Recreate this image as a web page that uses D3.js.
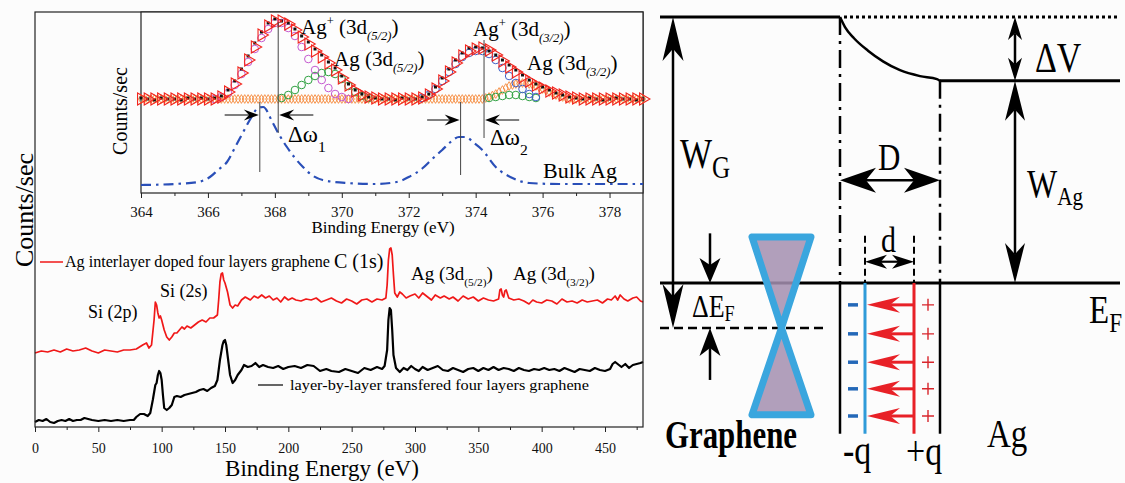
<!DOCTYPE html>
<html>
<head>
<meta charset="utf-8">
<script src="https://cdn.jsdelivr.net/npm/d3@7"></script>
<style>
  html, body { margin:0; padding:0; background:#fcfcfc; }
  svg { display:block; font-family:"Liberation Serif","Times New Roman",serif; }
  svg text { font-family:"Liberation Serif","Times New Roman",serif; }
</style>
</head>
<body>
<svg id="fig" width="1125" height="483"></svg>
<script>
// ================= DATA =================
// --- XPS survey (binding energy eV, counts a.u.)
const surveyTicks = [0,50,100,150,200,250,300,350,400,450];
const surveyMinorTicks = [25,75,125,175,225,275,325,375,425,475];
const dopedSurvey = [[0,74],[5,76],[10,75],[15,77],[20,75],[25,78],[30,76],[35,77],[40,79],[45,76],[50,74],[55,77],[60,76],[65,75],[70,77],[75,77],[80,78],[85,82],[88,84],[90,79],[92,82],[94,107],[95,125],[96,122],[97,114],[98,109],[99,111],[100,107],[102,97],[104,90],[106,87],[108,90],[110,94],[112,94],[114,97],[116,100],[118,98],[120,101],[123,99],[126,102],[129,105],[132,107],[135,105],[138,109],[141,109],[144,112],[145,127],[146,145],[147,153],[148,154],[149,147],[150,144],[152,135],[154,122],[156,119],[158,122],[160,121],[163,127],[166,130],[170,127],[173,131],[176,129],[179,132],[182,129],[185,131],[188,127],[191,129],[194,125],[197,130],[200,127],[203,129],[206,127],[210,126],[214,128],[218,127],[222,129],[226,125],[230,127],[234,129],[238,126],[242,124],[246,128],[250,126],[254,123],[258,127],[262,128],[266,125],[270,128],[274,127],[277,129],[278,142],[279,167],[280,178],[281,179],[282,172],[283,152],[284,134],[286,130],[288,135],[290,133],[293,129],[296,131],[300,133],[303,129],[306,134],[310,130],[313,127],[316,132],[320,129],[323,131],[327,128],[330,130],[334,126],[338,131],[342,128],[346,130],[350,126],[354,129],[358,127],[362,126],[366,128],[367,137],[368,138],[369,132],[370,130],[371,136],[372,137],[373,133],[374,129],[378,127],[382,128],[386,126],[390,123],[393,127],[396,125],[400,124],[404,127],[408,126],[412,123],[416,128],[420,125],[424,126],[428,124],[432,127],[436,125],[440,126],[444,127],[448,124],[452,128],[455,127],[458,131],[460,127],[462,132],[465,128],[468,126],[472,129],[475,130],[478,126],[480,125]];
const pristineSurvey = [[0,5],[3,7],[6,6],[9,8],[12,5],[15,4],[18,6],[21,7],[24,6],[27,8],[30,6],[33,7],[36,7],[39,9],[42,8],[45,7],[50,6],[55,7],[60,6],[65,7],[70,6],[75,7],[78,7],[80,10],[83,13],[86,13],[89,11],[91,14],[93,27],[95,42],[96,44],[97,52],[98,56],[99,54],[100,47],[101,32],[102,19],[104,17],[106,19],[108,22],[110,30],[112,31],[115,30],[118,32],[121,33],[124,34],[127,35],[130,37],[133,38],[136,36],[139,39],[142,41],[144,47],[146,67],[148,82],[149,86],[150,87],[151,82],[152,72],[154,52],[156,44],[158,47],[160,52],[163,57],[165,62],[168,60],[171,61],[174,64],[177,60],[180,62],[184,60],[188,59],[192,61],[196,58],[200,60],[205,61],[210,59],[215,62],[220,61],[225,56],[230,58],[234,56],[240,55],[245,58],[250,56],[255,54],[260,59],[265,57],[270,60],[274,58],[276,61],[278,77],[279,107],[280,119],[281,117],[282,97],[283,72],[285,59],[288,55],[291,59],[294,57],[297,61],[300,58],[303,56],[306,60],[310,57],[314,59],[318,61],[322,57],[326,56],[330,59],[334,57],[338,55],[342,58],[346,59],[350,56],[354,59],[358,57],[362,60],[366,57],[370,59],[374,58],[378,56],[382,59],[386,57],[390,56],[394,58],[398,57],[402,59],[406,57],[410,58],[414,56],[418,59],[422,57],[426,55],[430,58],[434,57],[438,56],[442,59],[446,57],[450,56],[454,58],[456,63],[458,65],[460,63],[463,60],[466,63],[469,59],[472,62],[475,63],[478,64],[480,65]];
const dopedLegend = "Ag interlayer doped four layers graphene";
const pristineLegend = "layer-by-layer transfered four layers graphene";

// --- Ag 3d inset (binding energy eV, intensity a.u.)
const insetTicks = [364,366,368,370,372,374,376,378];
const insetMinorTicks = [365,367,369,371,373,375,377];
const insetEV = [364.0,364.2,364.4,364.6,364.8,365.0,365.2,365.4,365.6,365.8,366.0,366.2,366.4,366.6,366.8,367.0,367.2,367.4,367.6,367.8,368.0,368.2,368.4,368.6,368.8,369.0,369.2,369.4,369.6,369.8,370.0,370.2,370.4,370.6,370.8,371.0,371.2,371.4,371.6,371.8,372.0,372.2,372.4,372.6,372.8,373.0,373.2,373.4,373.6,373.8,374.0,374.2,374.4,374.6,374.8,375.0,375.2,375.4,375.6,375.8,376.0,376.2,376.4,376.6,376.8,377.0,377.2,377.4,377.6,377.8,378.0,378.2,378.4,378.6,378.8,379.0];
const insetRaw = [95,94,93,95,94,94,93,95,94,95,94,95,97,103,112,124,137,150,161,170,174,172,170,164,157,151,144,138,131,125,117,109,103,99,96,95,94,94,93,95,94,94,96,99,106,115,124,133,140,145,146,145,142,138,133,128,123,118,113,109,106,103,100,98,96,95,94,95,94,93,94,95,94,94,93,94];
const insetEnvelope = [94,94,94,94,94,94,94,94,94,94,94,94,96,101,109,120,133,146,158,167,172,172,169,163,156,149,142,136,130,123,115,108,102,98,96,95,94,94,94,94,94,94,95,98,104,112,121,130,137,142,144,145,143,138,132,126,121,116,112,108,105,102,100,98,96,95,94,94,94,94,94,94,94,94,94,94];
const insetBackground = [94,94,94,94,94,94,94,94,94,94,94,94,94,94,94,94,94,94,94,94,94,94,94,94,94,94,94,94,94,94,94,94,94,94,94,94,94,94,94,94,94,94,94,94,94,94,94,94,94,94,94,94,96,99,103,107,109,110,109,107,104,101,98,96,94,94,94,94,94,94,94,94,94,94,94,94];
const agPlus52 = [[366.2,94],[366.4,96],[366.6,100],[366.8,108],[367.0,119],[367.2,131],[367.4,144],[367.6,155],[367.8,164],[368.0,170],[368.2,170],[368.4,165],[368.6,157],[368.8,146],[369.0,134],[369.2,123],[369.4,113],[369.6,105],[369.8,99],[370.0,96],[370.2,94]];
const ag52 = [[368.2,95],[368.4,98],[368.6,103],[368.8,108],[369.0,113],[369.2,117],[369.4,120],[369.6,121],[369.8,119],[370.0,114],[370.2,107],[370.4,101],[370.6,97],[370.8,95]];
const agPlus32 = [[372.4,95],[372.6,98],[372.8,104],[373.0,112],[373.2,121],[373.4,129],[373.6,136],[373.8,140],[374.0,142],[374.2,142],[374.4,139],[374.6,133],[374.8,125],[375.0,117],[375.2,110],[375.4,104],[375.6,99],[375.8,96]];
const ag32minor = [[374.4,95],[374.6,96],[374.8,97],[375.0,98],[375.2,98],[375.4,97],[375.6,96],[375.8,95]];
const bulkAg = [[364.0,8],[365.0,9],[365.7,11],[366.06,16],[366.3,23],[366.57,31],[366.8,45],[367.04,60],[367.25,73],[367.5,85],[367.65,86],[367.94,70],[368.15,57],[368.36,46],[368.6,35],[368.84,26],[369.1,18],[369.43,13],[370.15,10],[371.0,9],[371.64,11],[372.0,16],[372.42,25],[372.7,34],[373.0,43],[373.25,51],[373.5,56],[373.7,56],[373.95,50],[374.2,43],[374.6,26],[375.1,15],[375.6,10],[376.5,9],[379.0,9]];
// peak position markers [eV, top, bottom]
const peakMarks = [[368.1,171,60],[367.55,91,21],[373.55,91,18],[374.25,153,55]];
// shift arrows [fromEV, toEV, level]
const shiftArrows = [[366.5,367.52,78],[369.15,368.13,78],[372.55,373.52,73],[375.3,374.28,73]];

// --- Band diagram (position units, energy eV)
const vacuumLevel = 0, agVacuumLevel = -1.08, fermiLevel = -4.5, diracPoint = -5.26;
const potentialCurve = [[0,0],[0.5,-0.17],[1.4,-0.36],[2.8,-0.57],[4.3,-0.75],[6,-0.9],[8,-1.0],[9.7,-1.05],[10,-1.08]];
const grapheneLeft = -18, rightEnd = 28, interfaceX = 0, agWallX = 10;
const blueSheetX = 2.5, redSheetX = 7.4, chargeDash = [0.8,1.8], plusX = 8.8;
const coneCenter = -5.85, coneHalf = 2.95, coneTop = -3.72, coneBottom = -6.73;
const wallBottom = -7.05, dTop = -3.7, dArrowE = -4.14, DArrowE = -2.76;
const chargeRows = [-4.87,-5.36,-5.84,-6.29,-6.75];
const wgX = -16.7, defX = -13, defTop = -3.66, defBottom = -6.14, agArrowX = 17.5, diracDashEnd = -1.5;

// ================= DRAW =================
const svg = d3.select("#fig");
const SERIF = '"Liberation Serif","Times New Roman",serif';

function rich(g, x, y, parts, size, attrs = {}) {
  const t = g.append("text").attr("x", x).attr("y", y).attr("font-size", size);
  Object.entries(attrs).forEach(([k, v]) => t.attr(k, v));
  let off = 0;
  parts.forEach(p => {
    const target = p.sub ? size * (p.drop || 0.3) : p.sup ? -size * 0.42 : 0;
    const ts = t.append("tspan").text(p.t).attr("dy", target - off);
    off = target;
    if (p.sub || p.sup) ts.attr("font-size", size * (p.scale || 0.6));
    if (p.italic) ts.attr("font-style", "italic");
  });
  return t;
}

function arrow(g, x1, y1, x2, y2, o = {}) {
  const len = o.len || 20, wid = o.wid || 12, color = o.color || "#000", sw = o.sw || 2;
  const notch = o.notch == null ? 0.28 : o.notch;
  const start = !!o.start, end = o.end !== false;
  const ang = Math.atan2(y2 - y1, x2 - x1), ux = Math.cos(ang), uy = Math.sin(ang);
  const s0 = start ? len * (1 - notch) : 0, s1 = end ? len * (1 - notch) : 0;
  g.append("line")
    .attr("x1", x1 + ux * s0).attr("y1", y1 + uy * s0)
    .attr("x2", x2 - ux * s1).attr("y2", y2 - uy * s1)
    .attr("stroke", color).attr("stroke-width", sw);
  const head = `M0,0L${-len},${-wid / 2}L${-len * (1 - notch)},0L${-len},${wid / 2}Z`;
  const deg = ang * 180 / Math.PI;
  if (end) g.append("path").attr("d", head).attr("fill", color)
    .attr("transform", `translate(${x2},${y2}) rotate(${deg})`);
  if (start) g.append("path").attr("d", head).attr("fill", color)
    .attr("transform", `translate(${x1},${y1}) rotate(${deg + 180})`);
}

function styleAxis(ax, y, size) {
  ax.attr("font-family", null).attr("font-size", null);
  ax.select(".domain").remove();
  ax.selectAll("line").attr("stroke", "#222");
  ax.selectAll("text").attr("y", y).attr("dy", 0)
    .style("font-family", SERIF).style("font-size", size + "px").attr("fill", "#111");
}

// ---------- main survey panel ----------
const xMain = d3.scaleLinear().domain([0, 480]).range([35, 643]);
const yMain = d3.scaleLinear().domain([0, 415]).range([427, 12]);
const gMain = svg.append("g");

const lineMain = d3.line().x(d => xMain(d[0])).y(d => yMain(d[1]));
gMain.append("path").datum(pristineSurvey).attr("d", lineMain)
  .attr("fill", "none").attr("stroke", "#000").attr("stroke-width", 2.2).attr("stroke-linejoin", "round");
gMain.append("path").datum(dopedSurvey).attr("d", lineMain)
  .attr("fill", "none").attr("stroke", "#f01818").attr("stroke-width", 1.7).attr("stroke-linejoin", "round");

gMain.append("rect").attr("x", xMain(0)).attr("y", yMain(415))
  .attr("width", xMain(480) - xMain(0)).attr("height", yMain(0) - yMain(415))
  .attr("fill", "none").attr("stroke", "#222").attr("stroke-width", 1.2);

const axMain = gMain.append("g").attr("transform", `translate(0,${yMain(0)})`)
  .call(d3.axisBottom(xMain).tickValues(surveyTicks).tickSize(5).tickFormat(d3.format("d")));
styleAxis(axMain, 26, 14);
const axMainMinor = gMain.append("g").attr("transform", `translate(0,${yMain(0)})`)
  .call(d3.axisBottom(xMain).tickValues(surveyMinorTicks.filter(v => v < 480)).tickSize(3).tickFormat(""));
styleAxis(axMainMinor, 0, 1);

gMain.append("text").attr("x", 322).attr("y", 476).attr("text-anchor", "middle")
  .attr("font-size", 23).text("Binding Energy (eV)");
gMain.append("text").attr("transform", "translate(33,210) rotate(-90)")
  .attr("text-anchor", "middle").attr("font-size", 26).text("Counts/sec");

// legend
gMain.append("line").attr("x1", 40).attr("x2", 63).attr("y1", 262).attr("y2", 262)
  .attr("stroke", "#f01818").attr("stroke-width", 1.5);
gMain.append("text").attr("x", 65).attr("y", 267).attr("font-size", 16)
  .attr("textLength", 265).attr("lengthAdjust", "spacingAndGlyphs").text(dopedLegend);
gMain.append("line").attr("x1", 258).attr("x2", 283).attr("y1", 385).attr("y2", 385)
  .attr("stroke", "#000").attr("stroke-width", 1.2);
gMain.append("text").attr("x", 290).attr("y", 390).attr("font-size", 15)
  .attr("textLength", 299).attr("lengthAdjust", "spacingAndGlyphs").text(pristineLegend);

// peak labels
gMain.append("text").attr("x", 88).attr("y", 318).attr("font-size", 18).text("Si (2p)");
gMain.append("text").attr("x", 160).attr("y", 297).attr("font-size", 18).text("Si (2s)");
gMain.append("text").attr("x", 334).attr("y", 268).attr("font-size", 20).text("C (1s)");
rich(gMain, 411, 280, [{t:"Ag (3d"},{t:"(5/2)",sub:true},{t:")"}], 19);
rich(gMain, 513, 280, [{t:"Ag (3d"},{t:"(3/2)",sub:true},{t:")"}], 19);

// ---------- inset ----------
const xIn = d3.scaleLinear().domain([364, 379]).range([141, 643]);
const yIn = d3.scaleLinear().domain([0, 181]).range([193, 12]);
const gIn = svg.append("g");

gIn.append("rect").attr("x", xIn(364)).attr("y", yIn(181))
  .attr("width", xIn(379) - xIn(364)).attr("height", yIn(0) - yIn(181))
  .attr("fill", "#fdfdfd").attr("stroke", "#222").attr("stroke-width", 1.2);

const axIn = gIn.append("g").attr("transform", `translate(0,${yIn(0)})`)
  .call(d3.axisBottom(xIn).tickValues(insetTicks).tickSize(5).tickFormat(d3.format("d")));
styleAxis(axIn, 24, 15);
const axInMinor = gIn.append("g").attr("transform", `translate(0,${yIn(0)})`)
  .call(d3.axisBottom(xIn).tickValues(insetMinorTicks).tickSize(3).tickFormat(""));
styleAxis(axInMinor, 0, 1);

gIn.append("text").attr("x", 383).attr("y", 233).attr("text-anchor", "middle")
  .attr("font-size", 17).text("Binding Energy (eV)");
gIn.append("text").attr("transform", "translate(127,111) rotate(-90)")
  .attr("text-anchor", "middle").attr("font-size", 20).text("Counts/sec");

// bulk Ag
gIn.append("path").datum(bulkAg)
  .attr("d", d3.line().curve(d3.curveMonotoneX).x(d => xIn(d[0])).y(d => yIn(d[1])))
  .attr("fill", "none").attr("stroke", "#2a4fb8").attr("stroke-width", 2.2)
  .attr("stroke-dasharray", "10,5,2.5,5");

// background (orange diamonds)
const diamond = d3.symbol(d3.symbolDiamond, 22)();
gIn.selectAll(".bg").data(insetEV).enter().append("path")
  .attr("d", diamond).attr("transform", (d, i) => `translate(${xIn(d)},${yIn(insetBackground[i])})`)
  .attr("fill", "none").attr("stroke", "#f58a3c").attr("stroke-width", 0.9);
gIn.selectAll(".bg2").data(insetEV.slice(0, -1)).enter().append("path")
  .attr("d", diamond).attr("transform", (d, i) => `translate(${(xIn(d) + xIn(insetEV[i + 1])) / 2},${yIn((insetBackground[i] + insetBackground[i + 1]) / 2)})`)
  .attr("fill", "none").attr("stroke", "#f58a3c").attr("stroke-width", 0.9);

function circles(data, color) {
  gIn.append("g").selectAll("circle").data(data).enter().append("circle")
    .attr("cx", d => xIn(d[0])).attr("cy", d => yIn(d[1])).attr("r", 3.8)
    .attr("fill", "none").attr("stroke", color).attr("stroke-width", 1);
}
circles(ag32minor, "#2ea040");
circles(ag52, "#2ea040");
circles(agPlus32, "#3f5fc8");
circles(agPlus52, "#c458d0");

// raw data squares
gIn.append("g").selectAll("rect").data(insetEV).enter().append("rect")
  .attr("x", (d) => xIn(d) - 1.5).attr("y", (d, i) => yIn(insetRaw[i]) - 1.5)
  .attr("width", 3).attr("height", 3).attr("fill", "#111");

// envelope (red open triangles)
const tri = d3.symbol(d3.symbolTriangle, 62)();
gIn.append("g").selectAll("path").data(insetEV).enter().append("path")
  .attr("d", tri).attr("transform", (d, i) => `translate(${xIn(d)},${yIn(insetEnvelope[i])}) rotate(90)`)
  .attr("fill", "none").attr("stroke", "#f2261e").attr("stroke-width", 1.1);

// peak position lines
peakMarks.forEach(p => {
  gIn.append("line").attr("x1", xIn(p[0])).attr("x2", xIn(p[0]))
    .attr("y1", yIn(p[1])).attr("y2", yIn(p[2])).attr("stroke", "#444").attr("stroke-width", 1);
});
shiftArrows.forEach(a => {
  arrow(gIn, xIn(a[0]), yIn(a[2]), xIn(a[1]), yIn(a[2]), {len: 15, wid: 11, sw: 1, notch: 0.35});
});

rich(gIn, 301, 34, [{t:"Ag"},{t:"+",sup:true},{t:" (3d"},{t:"(5/2)",sub:true,italic:true},{t:")"}], 21);
rich(gIn, 334, 66, [{t:"Ag (3d"},{t:"(5/2)",sub:true,italic:true},{t:")"}], 21);
rich(gIn, 473, 36, [{t:"Ag"},{t:"+",sup:true},{t:" (3d"},{t:"(3/2)",sub:true,italic:true},{t:")"}], 21);
rich(gIn, 527, 70, [{t:"Ag (3d"},{t:"(3/2)",sub:true,italic:true},{t:")"}], 21);
rich(gIn, 288, 142, [{t:"Δω"},{t:"1",sub:true,scale:0.68,drop:0.45}], 23);
rich(gIn, 490, 145, [{t:"Δω"},{t:"2",sub:true,scale:0.68,drop:0.45}], 23);
gIn.append("text").attr("x", 543).attr("y", 178).attr("font-size", 22).text("Bulk Ag");

// ---------- band diagram ----------
const xD = d3.scaleLinear().domain([0, 10]).range([840, 940]);
const yE = d3.scaleLinear().domain([0, -4.5]).range([17, 283]);
const gD = svg.append("g");

const coneUpper = [[coneCenter - coneHalf, coneTop], [coneCenter + coneHalf, coneTop], [coneCenter, diracPoint]];
const coneLower = [[coneCenter, diracPoint], [coneCenter - coneHalf, coneBottom], [coneCenter + coneHalf, coneBottom]];
const poly = d3.line().x(d => xD(d[0])).y(d => yE(d[1])).curve(d3.curveLinearClosed);

gD.append("line").attr("x1", xD(grapheneLeft)).attr("x2", xD(rightEnd))
  .attr("y1", yE(fermiLevel)).attr("y2", yE(fermiLevel)).attr("stroke", "#000").attr("stroke-width", 3);
gD.append("line").attr("x1", xD(grapheneLeft)).attr("x2", xD(diracDashEnd))
  .attr("y1", yE(diracPoint)).attr("y2", yE(diracPoint)).attr("stroke", "#000").attr("stroke-width", 2.5)
  .attr("stroke-dasharray", "9,5");
[coneUpper, coneLower].forEach(c => {
  gD.append("path").attr("d", poly(c)).attr("fill", "#a48fb0").attr("fill-opacity", 0.86)
    .attr("stroke", "#3aa6de").attr("stroke-width", 7).attr("stroke-linejoin", "round");
});

// vacuum levels
gD.append("line").attr("x1", xD(grapheneLeft)).attr("x2", xD(interfaceX))
  .attr("y1", yE(vacuumLevel)).attr("y2", yE(vacuumLevel)).attr("stroke", "#000").attr("stroke-width", 3);
gD.append("line").attr("x1", xD(interfaceX) + 4).attr("x2", xD(rightEnd))
  .attr("y1", yE(vacuumLevel)).attr("y2", yE(vacuumLevel)).attr("stroke", "#000").attr("stroke-width", 3)
  .attr("stroke-dasharray", "3,3");
gD.append("path").datum(potentialCurve)
  .attr("d", d3.line().curve(d3.curveMonotoneX).x(d => xD(d[0])).y(d => yE(d[1])))
  .attr("fill", "none").attr("stroke", "#000").attr("stroke-width", 2.5);
gD.append("line").attr("x1", xD(agWallX)).attr("x2", xD(rightEnd))
  .attr("y1", yE(agVacuumLevel)).attr("y2", yE(agVacuumLevel)).attr("stroke", "#000").attr("stroke-width", 3);

// interface lines
gD.append("line").attr("x1", xD(interfaceX)).attr("x2", xD(interfaceX))
  .attr("y1", yE(vacuumLevel)).attr("y2", yE(fermiLevel)).attr("stroke", "#000").attr("stroke-width", 2.5)
  .attr("stroke-dasharray", "18,6,3,6");
gD.append("line").attr("x1", xD(agWallX)).attr("x2", xD(agWallX))
  .attr("y1", yE(agVacuumLevel)).attr("y2", yE(fermiLevel)).attr("stroke", "#000").attr("stroke-width", 2.5)
  .attr("stroke-dasharray", "18,6,3,6");
[interfaceX, agWallX].forEach(x => {
  gD.append("line").attr("x1", xD(x)).attr("x2", xD(x))
    .attr("y1", yE(fermiLevel)).attr("y2", yE(wallBottom)).attr("stroke", "#000").attr("stroke-width", 2.5);
});
[blueSheetX, redSheetX].forEach(x => {
  gD.append("line").attr("x1", xD(x)).attr("x2", xD(x))
    .attr("y1", yE(dTop)).attr("y2", yE(fermiLevel)).attr("stroke", "#000").attr("stroke-width", 2)
    .attr("stroke-dasharray", "7,4");
});

// charge sheets
gD.append("line").attr("x1", xD(blueSheetX)).attr("x2", xD(blueSheetX))
  .attr("y1", yE(fermiLevel)).attr("y2", yE(wallBottom)).attr("stroke", "#2f9bd9").attr("stroke-width", 3);
gD.append("line").attr("x1", xD(redSheetX)).attr("x2", xD(redSheetX))
  .attr("y1", yE(fermiLevel)).attr("y2", yE(wallBottom)).attr("stroke", "#e82127").attr("stroke-width", 3);
chargeRows.forEach(e => {
  gD.append("line").attr("x1", xD(chargeDash[0])).attr("x2", xD(chargeDash[1]))
    .attr("y1", yE(e)).attr("y2", yE(e)).attr("stroke", "#2468b8").attr("stroke-width", 3.5);
  arrow(gD, xD(redSheetX), yE(e), xD(blueSheetX) + 2, yE(e), {len: 33, wid: 16, sw: 3, color: "#e82127", notch: 0.3});
  gD.append("path").attr("d", `M${xD(plusX) - 6},${yE(e)}h12M${xD(plusX)},${yE(e) - 6}v12`)
    .attr("stroke", "#d8262c").attr("stroke-width", 1.4);
});

// arrows
arrow(gD, xD(blueSheetX), yE(dArrowE), xD(redSheetX), yE(dArrowE), {len: 22, wid: 14, sw: 2.2, start: true});
arrow(gD, xD(interfaceX), yE(DArrowE), xD(agWallX), yE(DArrowE), {len: 36, wid: 25, sw: 2.5, start: true});
arrow(gD, xD(wgX), yE(diracPoint), xD(wgX), yE(vacuumLevel), {len: 44, wid: 21, sw: 2.5, start: true});
arrow(gD, xD(defX), yE(defTop), xD(defX), yE(fermiLevel), {len: 25, wid: 21, sw: 2.5});
arrow(gD, xD(defX), yE(defBottom), xD(defX), yE(diracPoint), {len: 28, wid: 21, sw: 2.5});
arrow(gD, xD(agArrowX), yE(agVacuumLevel), xD(agArrowX), yE(vacuumLevel), {len: 23, wid: 14, sw: 2.5, start: true});
arrow(gD, xD(agArrowX), yE(agVacuumLevel), xD(agArrowX), yE(fermiLevel), {len: 40, wid: 20, sw: 2.5, start: true});

// labels (vertically stretched like the original figure)
function lab(x, y, parts, size, extra = {}) {
  const g = gD.append("g").attr("transform", `translate(${x},${y}) scale(1,1.22)`);
  return rich(g, 0, 0, parts, size, extra);
}
lab(680, 168, [{t:"W"},{t:"G",sub:true,scale:0.74,drop:0.25}], 34);
lab(1027, 197, [{t:"W"},{t:"Ag",sub:true,scale:0.66,drop:0.2}], 32);
lab(1035, 72, [{t:"ΔV"}], 34);
lab(878, 170, [{t:"D"}], 31);
lab(881, 252, [{t:"d"}], 30);
lab(692, 317, [{t:"ΔE"},{t:"F",sub:true,scale:0.7,drop:0.12}], 26);
lab(1089, 323, [{t:"E"},{t:"F",sub:true,scale:0.7,drop:0.22}], 33);
lab(665, 448, [{t:"Graphene"}], 33, {"font-weight": "bold", "textLength": 132, "lengthAdjust": "spacingAndGlyphs"});
lab(843, 464, [{t:"-q"}], 34);
lab(906, 465, [{t:"+q"}], 34);
lab(987, 447, [{t:"Ag"}], 33);
</script>
</body>
</html>
